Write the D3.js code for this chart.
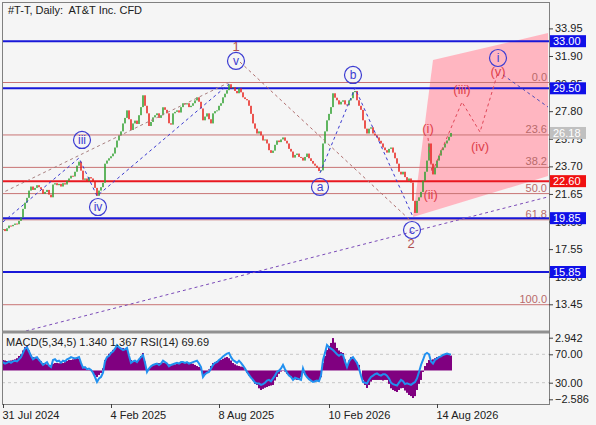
<!DOCTYPE html>
<html><head><meta charset="utf-8">
<script src="https://cdn.jsdelivr.net/npm/d3@7"></script>
<style>
html,body{margin:0;padding:0;background:#f5f5f5;}
svg{display:block;font-family:"Liberation Sans",Arial,sans-serif;}
</style></head><body>
<svg id="c" width="596" height="425"></svg>
<script>
// ---------- data ----------
const closes = [19.04,18.89,19.10,19.30,19.25,19.35,19.45,19.40,19.65,19.90,
20.54,21.00,21.36,21.90,22.20,21.95,22.10,22.30,22.15,22.00,
21.66,21.80,21.95,21.60,21.40,22.35,22.45,22.30,22.40,22.20,
22.45,22.35,22.63,22.80,23.00,22.95,23.30,23.75,24.05,23.38,
22.70,22.80,22.60,22.90,22.80,22.55,22.10,21.51,21.90,22.15,
22.48,23.90,24.13,24.30,24.45,24.65,25.10,25.62,26.00,26.30,
26.89,27.30,27.86,27.20,26.40,26.89,27.10,26.85,27.50,28.10,
28.98,28.20,27.64,26.70,27.00,27.34,27.50,27.64,27.30,27.50,
28.09,27.90,27.64,26.90,26.80,27.64,27.75,27.86,27.70,28.10,
28.39,28.30,28.39,28.10,28.20,28.39,28.60,28.83,28.50,28.00,
27.12,27.40,27.64,27.20,26.89,27.64,27.80,27.86,28.20,28.39,
28.83,29.10,29.36,29.80,29.50,29.58,29.30,29.13,29.50,29.20,
28.83,28.70,28.61,28.20,27.60,26.89,26.50,26.14,26.30,26.00,
25.62,25.70,25.40,24.90,24.70,24.87,25.30,25.62,25.50,25.70,
25.85,25.60,25.40,25.00,24.80,24.35,24.55,24.65,24.40,24.35,
24.13,24.40,24.65,24.30,24.10,23.90,23.75,23.60,23.35,23.40,
25.40,26.30,27.12,27.60,28.10,29.13,28.80,28.61,28.30,28.50,
28.61,28.30,28.24,28.60,28.76,29.21,29.30,28.61,28.20,27.90,
27.12,26.50,26.14,26.50,26.60,26.14,26.00,25.85,25.60,25.40,
25.10,24.90,24.72,25.00,25.10,24.72,24.30,23.90,23.30,23.10,
23.30,22.90,22.63,22.80,22.50,21.14,20.24,21.14,21.40,21.80,
22.63,23.30,24.13,25.40,23.90,23.10,23.60,24.13,24.50,24.90,
25.10,25.40,25.62,25.90,26.18];

const macdHist = [0.94,0.90,0.85,0.85,0.90,0.95,1.00,1.10,1.30,1.45,
1.80,2.10,2.20,1.80,1.40,1.20,1.15,1.10,1.00,0.85,
0.67,0.60,0.55,0.45,0.49,0.60,0.67,0.67,0.65,0.67,
0.67,0.75,0.85,0.94,0.94,1.00,1.10,1.12,1.05,0.70,
0.31,0.20,0.10,0.05,0.04,-0.20,-0.45,-0.58,-0.40,-0.22,
0.20,0.94,1.20,1.50,1.66,1.85,2.00,2.11,2.05,2.02,
2.02,1.95,1.84,1.30,0.94,0.85,0.80,0.76,1.00,1.30,
1.57,0.80,0.04,0.20,0.40,0.49,0.55,0.60,0.67,0.67,
0.70,0.67,0.67,0.55,0.49,0.49,0.55,0.60,0.67,0.67,
0.70,0.67,0.67,0.67,0.65,0.60,0.50,0.40,0.31,0.20,
-0.58,-0.40,-0.22,0.10,0.40,0.67,0.76,0.85,0.94,0.94,
1.05,1.15,1.21,1.10,0.90,0.67,0.55,0.45,0.40,0.35,
0.31,0.10,-0.20,-0.45,-0.58,-0.90,-1.20,-1.30,-1.60,-1.75,
-1.65,-1.55,-1.48,-1.40,-1.35,-1.30,-0.90,-0.58,-0.30,-0.10,
0.04,-0.10,-0.30,-0.40,-0.55,-0.70,-0.80,-0.85,-0.85,-0.60,
-0.22,-0.40,-0.58,-0.80,-0.95,-1.03,-1.00,-0.95,-0.85,-0.60,
0.67,1.30,1.84,2.20,2.47,2.91,2.50,2.02,1.80,1.65,
1.57,1.00,0.31,0.90,1.20,1.12,0.94,0.76,0.50,0.00,
-0.85,-1.30,-1.57,-1.30,-1.00,-0.85,-0.85,-0.85,-0.85,-0.85,
-0.90,-0.85,-0.85,-1.20,-1.60,-1.75,-1.85,-1.93,-1.75,-1.60,
-1.57,-1.80,-2.00,-2.20,-2.30,-2.47,-2.30,-1.75,-1.20,-0.85,
-0.13,0.40,0.67,0.94,0.94,1.00,1.10,1.21,1.25,1.30,
1.39,1.45,1.57,1.50,1.34];

const rsi = [59,57,58,60,58,60,61,60,63,66,
72,78,80,74,68,63,65,66,62,59,
55,57,59,54,52,62,63,60,61,58,
61,60,63,64,66,65,64,65,66,58,
51,52,49,50,48,44,38,31,36,38,
44,60,66,68,72,74,78,83,80,78,
76,77,79,68,58,60,61,59,63,66,
69,58,45,50,53,55,56,57,55,57,
61,59,57,53,55,56,57,58,57,59,
59,58,59,57,58,59,60,61,57,52,
38,42,44,45,50,55,58,59,62,64,
67,69,71,72,66,62,60,58,61,58,
54,50,45,41,37,34,30,29,29,27,
28,30,33,34,32,36,40,45,47,50,
55,49,44,40,38,34,37,36,35,34,
50,42,38,35,33,31,32,33,32,40,
62,72,83,80,78,76,73,70,68,70,
69,60,52,60,64,66,62,58,50,40,
31,30,29,34,38,40,42,43,41,40,
42,42,40,36,30,28,27,26,30,34,
32,28,29,28,27,29,31,36,45,55,
62,70,72,70,60,57,62,64,66,67,
69,70,71,70,69.69];

const dateTicks = [0,54,108,163,217];
const dateLabels = ["31 Jul 2024","4 Feb 2025","8 Aug 2025","10 Feb 2026","14 Aug 2026"];
const priceTicks = [33.95,31.90,29.85,27.80,25.75,23.70,21.65,19.60,17.55,15.50,13.45];
const blueLevels = [33.00,29.50,19.85,15.85];
const redLevels = [22.60];
const lastPrice = 26.18;
const fibHigh = 29.93, fibLow = 13.42;
const fibLevels = [0,23.6,38.2,50,61.8,100];
const macdTicks = [2.942,-2.586];
const rsiTicks = [70,30];
const title = "#T-T, Daily:  AT&T Inc. CFD";
const subTitle = "MACD(5,34,5) 1.340 1.367 RSI(14) 69.69";

// annotations in (bar index, price)
const circleLabels = [
  {t:"iii", i:39.5, p:25.66}, {t:"iv", i:47.5, p:20.68}, {t:"v", i:116.5, p:31.53},
  {t:"b", i:175, p:30.49}, {t:"a", i:158.5, p:22.17}, {t:"c", i:204.5, p:18.97},
  {t:"i", i:247.5, p:31.75}];
const numLabels = [{t:"1", i:116.5, p:32.62}, {t:"2", i:204, p:17.98}];
const redLabels = [{t:"(i)", i:212.5, p:26.55}, {t:"(ii)", i:213.8, p:21.65},
  {t:"(iii)", i:229.5, p:29.45}, {t:"(iv)", i:238.5, p:25.22}, {t:"(v)", i:247.5, p:30.78}];
const waveLine = [[0,19.57],[38,24.32],[47,21.50],[113,29.82]];
const channelLine = [[-1.5,21.65],[113.5,29.97]];
const line12 = [[118.5,31.45],[204.5,19.57]];
const abcLine = [[158.5,23.21],[176,29.52],[205,19.94]];
const purpleLine = [[11.5,11.47],[272.5,21.43]];
const redProj = [[212.5,25.81],[214.5,23.21],[229.5,28.48],[238.5,26.25],[247.5,30.71]];
const blueAfter = [[250,30.49],[272.5,28.11]];
const pinkZone = [[205,19.94],[215,31.60],[272.5,33.61],[272.5,22.98]];

// ---------- drawing ----------
const svg = d3.select("#c");
const L = 2, R = 549, T = 2, MB = 331, ST = 333, SB = 404;
const x = d3.scaleLinear().domain([0,272.5]).range([3,548]);
const y = d3.scaleLinear().domain([13.45,33.95]).range([304.3,28.4]);
const yM = d3.scaleLinear().domain([-2.586,2.942]).range([399.3,337.7]);
const yR = d3.scaleLinear().domain([30,70]).range([382.7,354.3]);

svg.append("rect").attr("width",596).attr("height",425).attr("fill","#f5f5f5");
const defs = svg.append("defs");
defs.append("clipPath").attr("id","cm").append("rect").attr("x",L).attr("y",T).attr("width",R-L).attr("height",MB-T);
defs.append("clipPath").attr("id","cs").append("rect").attr("x",L).attr("y",ST).attr("width",R-L).attr("height",SB-ST);

const gm = svg.append("g").attr("clip-path","url(#cm)");
const line = d3.line().x(d=>x(d[0])).y(d=>y(d[1]));

gm.append("path").attr("d", line(pinkZone)+"Z").attr("fill","#ffb6c1");

// fib lines
fibLevels.forEach(f=>{
  const v = fibHigh - (fibHigh-fibLow)*f/100;
  gm.append("line").attr("x1",L).attr("x2",R).attr("y1",y(v)).attr("y2",y(v))
    .attr("stroke","#c87474").attr("stroke-width",1);
  gm.append("text").attr("x",x(272)).attr("y",y(v)-2).attr("text-anchor","end")
    .attr("font-size",11).attr("fill","#b86a6a").text(f===0?"0.0":f.toFixed(1));
});
blueLevels.forEach(v=>{
  gm.append("line").attr("x1",L).attr("x2",R).attr("y1",y(v)).attr("y2",y(v))
    .attr("stroke","#1818d8").attr("stroke-width",2);
});
redLevels.forEach(v=>{
  gm.append("line").attr("x1",L).attr("x2",R).attr("y1",y(v)).attr("y2",y(v))
    .attr("stroke","#e81820").attr("stroke-width",2);
});

// candles
const bars = closes.map((c,i)=>({i, o: i ? closes[i-1] : c, c}));
gm.selectAll("rect.cd").data(bars).join("rect").attr("class","cd")
  .attr("x", d=>x(d.i)-0.75).attr("width",1.5)
  .attr("y", d=>y(Math.max(d.o,d.c)))
  .attr("height", d=>Math.max(1, Math.abs(y(d.o)-y(d.c))))
  .attr("fill", d=> d.c>=d.o ? "#2ea02e" : "#e8201a");

// dashed lines
function dashed(pts, color, w){
  gm.append("path").attr("d", line(pts)).attr("fill","none").attr("stroke",color)
    .attr("stroke-width",w||1).attr("stroke-dasharray","3,3");
}
dashed(channelLine,"#a88080");
dashed(waveLine,"#3a3ad0");
dashed(line12,"#b07070");
dashed(abcLine,"#3a3ad0");
dashed(purpleLine,"#7a4ab8");
dashed(redProj,"#e04858");
dashed(blueAfter,"#4a4ab8");

// circle labels
circleLabels.forEach(d=>{
  gm.append("circle").attr("cx",x(d.i)).attr("cy",y(d.p)).attr("r",8.5)
    .attr("fill","none").attr("stroke","#3c3cd2").attr("stroke-width",1.2);
  gm.append("text").attr("x",x(d.i)).attr("y",y(d.p)+4).attr("text-anchor","middle")
    .attr("font-size",12).attr("fill","#3c3cd2").text(d.t);
});
numLabels.forEach(d=>{
  gm.append("text").attr("x",x(d.i)).attr("y",y(d.p)+5).attr("text-anchor","middle")
    .attr("font-size",13).attr("fill","#b05050").text(d.t);
});
redLabels.forEach(d=>{
  gm.append("text").attr("x",x(d.i)).attr("y",y(d.p)+5).attr("text-anchor","middle")
    .attr("font-size",13).attr("fill","#e0404a").text(d.t);
});

// sub window
const gs = svg.append("g").attr("clip-path","url(#cs)");
rsiTicks.forEach(v=>{
  gs.append("line").attr("x1",L).attr("x2",R).attr("y1",yR(v)).attr("y2",yR(v))
    .attr("stroke","#c8c8c8").attr("stroke-dasharray","3,3");
});
gs.selectAll("rect.h").data(macdHist).join("rect").attr("class","h")
  .attr("x",(d,i)=>x(i)-1).attr("width",2)
  .attr("y",d=>Math.min(yM(0),yM(d))).attr("height",d=>Math.abs(yM(d)-yM(0)))
  .attr("fill","#800080");
gs.append("path").attr("d", d3.line().x((d,i)=>x(i)).y(d=>yR(d))(rsi))
  .attr("fill","none").attr("stroke","#2090f0").attr("stroke-width",2);

// frames
svg.append("rect").attr("x",L+0.5).attr("y",T+0.5).attr("width",R-L).attr("height",SB-T)
  .attr("fill","none").attr("stroke","#808080");
svg.append("line").attr("x1",L).attr("x2",R).attr("y1",332).attr("y2",332).attr("stroke","#909090").attr("stroke-width",3);

// axes
function styleAxis(g){
  g.select(".domain").remove();
  g.selectAll("line").attr("stroke","#404040");
  g.selectAll("text").attr("fill","#202020").attr("font-size",11)
    .attr("font-family","Liberation Sans, Arial, sans-serif");
}
svg.append("g").attr("transform",`translate(${R},0)`)
  .call(d3.axisRight(y).tickValues(priceTicks).tickFormat(d3.format(".2f")).tickSize(4).tickPadding(2))
  .call(styleAxis);
svg.append("g").attr("transform",`translate(${R},0)`)
  .call(d3.axisRight(yM).tickValues(macdTicks).tickFormat(d3.format(".3f")).tickSize(4).tickPadding(2))
  .call(styleAxis);
svg.append("g").attr("transform",`translate(${R},0)`)
  .call(d3.axisRight(yR).tickValues(rsiTicks).tickFormat(d3.format(".2f")).tickSize(4).tickPadding(2))
  .call(styleAxis);
svg.append("g").attr("transform",`translate(0,${SB})`)
  .call(d3.axisBottom(x).tickValues(dateTicks).tickFormat((d,k)=>dateLabels[k]).tickSize(4).tickPadding(3))
  .call(styleAxis)
  .selectAll("text").attr("text-anchor","start").attr("dx",-1);

// price boxes
const boxes = blueLevels.map(v=>({v,c:"#1010e8",t:"#ffffff"}))
  .concat(redLevels.map(v=>({v,c:"#f01010",t:"#ffffff"})))
  .concat([{v:lastPrice,c:"#c0c0c0",t:"#ffffff"}]);
boxes.forEach(b=>{
  svg.append("rect").attr("x",R+1).attr("y",y(b.v)-6).attr("width",36).attr("height",12).attr("fill",b.c);
  svg.append("text").attr("x",R+4).attr("y",y(b.v)+4).attr("font-size",11).attr("fill",b.t).text(b.v.toFixed(2));
});

// titles
svg.append("text").attr("x",8).attr("y",14).attr("font-size",11).attr("fill","#202020")
  .attr("xml:space","preserve").style("white-space","pre").text(title);
svg.append("text").attr("x",6).attr("y",346).attr("font-size",11).attr("fill","#202020").text(subTitle);
</script>
</body></html>
